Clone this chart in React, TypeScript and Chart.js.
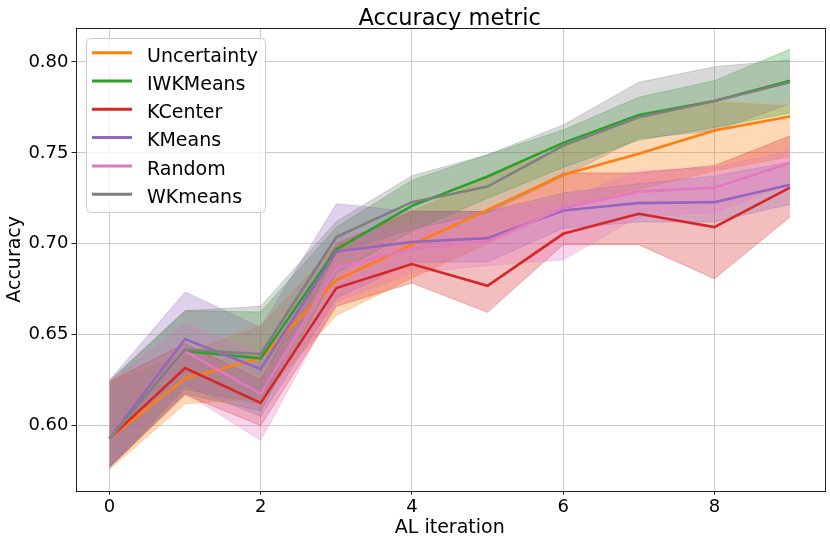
import React, { useEffect, useRef } from "react";
import { Chart, registerables } from "chart.js";
Chart.register(...registerables);

const iterations = [0, 1, 2, 3, 4, 5, 6, 7, 8, 9];
const seriesNames = ["Uncertainty", "IWKMeans", "KCenter", "KMeans", "Random", "WKmeans"];
const seriesColors = ["#ff7f0e", "#2ca02c", "#d62728", "#9467bd", "#e377c2", "#7f7f7f"];

const uncertaintyMean = [0.593, 0.626, 0.637, 0.680, 0.6995, 0.7187, 0.738, 0.7495, 0.7623, 0.770];
const uncertaintyLow = [0.576, 0.612, 0.615, 0.6606, 0.681, 0.700, 0.720, 0.730, 0.740, 0.748];
const uncertaintyHigh = [0.624, 0.640, 0.655, 0.699, 0.718, 0.736, 0.7535, 0.770, 0.778, 0.776];

const iwkmeansMean = [0.593, 0.641, 0.637, 0.697, 0.7209, 0.737, 0.7555, 0.7709, 0.7786, 0.7897];
const iwkmeansLow = [0.577, 0.6176, 0.608, 0.684, 0.707, 0.725, 0.742, 0.757, 0.764, 0.772];
const iwkmeansHigh = [0.624, 0.6632, 0.6625, 0.709, 0.735, 0.749, 0.7626, 0.7806, 0.7897, 0.807];

const kcenterMean = [0.593, 0.6317, 0.6125, 0.6757, 0.6889, 0.6769, 0.7055, 0.7165, 0.7092, 0.7309];
const kcenterLow = [0.577, 0.617, 0.600, 0.6656, 0.6784, 0.6623, 0.6995, 0.6995, 0.6808, 0.7147];
const kcenterHigh = [0.624, 0.645, 0.625, 0.700, 0.7178, 0.7178, 0.739, 0.739, 0.743, 0.7593];

const kmeansMean = [0.593, 0.6476, 0.6311, 0.6958, 0.701, 0.7031, 0.7183, 0.7224, 0.7229, 0.7325];
const kmeansLow = [0.577, 0.622, 0.605, 0.670, 0.690, 0.690, 0.7086, 0.712, 0.712, 0.7218];
const kmeansHigh = [0.625, 0.6735, 0.654, 0.722, 0.7178, 0.7178, 0.728, 0.733, 0.7372, 0.745];

const randomMean = [0.593, 0.641, 0.6174, 0.6867, 0.6973, 0.7013, 0.7196, 0.7287, 0.7309, 0.7444];
const randomLow = [0.577, 0.618, 0.592, 0.668, 0.684, 0.688, 0.6912, 0.715, 0.717, 0.733];
const randomHigh = [0.624, 0.656, 0.640, 0.705, 0.710, 0.7178, 0.7242, 0.740, 0.742, 0.751];

const wkmeansMean = [0.593, 0.6418, 0.6394, 0.7037, 0.7229, 0.7315, 0.754, 0.7696, 0.7786, 0.7888];
const wkmeansLow = [0.577, 0.620, 0.612, 0.695, 0.708, 0.717, 0.737, 0.758, 0.762, 0.777];
const wkmeansHigh = [0.625, 0.6632, 0.6656, 0.7123, 0.7374, 0.749, 0.7654, 0.7888, 0.7974, 0.8011];

const xTicks = [0, 2, 4, 6, 8];
const yTicks = [0.6, 0.65, 0.7, 0.75, 0.8];

const titleText = "Accuracy metric";
const xLabel = "AL iteration";
const yLabel = "Accuracy";

const means = [uncertaintyMean, iwkmeansMean, kcenterMean, kmeansMean, randomMean, wkmeansMean];
const lows = [uncertaintyLow, iwkmeansLow, kcenterLow, kmeansLow, randomLow, wkmeansLow];
const highs = [uncertaintyHigh, iwkmeansHigh, kcenterHigh, kmeansHigh, randomHigh, wkmeansHigh];

const FONT = "'DejaVu Sans', sans-serif";

function rgba(hex: string, a: number) {
  const r = parseInt(hex.slice(1, 3), 16);
  const g = parseInt(hex.slice(3, 5), 16);
  const b = parseInt(hex.slice(5, 7), 16);
  return `rgba(${r},${g},${b},${a})`;
}

function pts(vals: number[]) {
  return iterations.map((x, i) => ({ x, y: vals[i] }));
}

const decorPlugin = {
  id: "decor",
  afterDraw(chart: any) {
    const { ctx, chartArea } = chart;
    ctx.save();
    // frame
    ctx.strokeStyle = "#222";
    ctx.lineWidth = 1;
    ctx.strokeRect(
      Math.round(chartArea.left) + 0.5,
      Math.round(chartArea.top) + 0.5,
      Math.round(chartArea.right - chartArea.left),
      Math.round(chartArea.bottom - chartArea.top)
    );
    // title
    ctx.fillStyle = "#000";
    ctx.font = `22.5px ${FONT}`;
    ctx.textAlign = "center";
    ctx.textBaseline = "alphabetic";
    ctx.fillText(titleText, (chartArea.left + chartArea.right) / 2, 24.7);
    // legend
    const bx = 86, by = 38, bw = 179, bh = 174;
    ctx.beginPath();
    (ctx as any).roundRect(bx + 0.5, by + 0.5, bw, bh, 4);
    ctx.fillStyle = "rgba(255,255,255,0.8)";
    ctx.fill();
    ctx.strokeStyle = "#cccccc";
    ctx.lineWidth = 1;
    ctx.stroke();
    ctx.font = `19px ${FONT}`;
    ctx.textAlign = "left";
    ctx.textBaseline = "alphabetic";
    seriesNames.forEach((name, i) => {
      const y = 52.7 + 28.3 * i;
      ctx.strokeStyle = seriesColors[i];
      ctx.lineWidth = 3;
      ctx.beginPath();
      ctx.moveTo(92, y);
      ctx.lineTo(132, y);
      ctx.stroke();
      ctx.fillStyle = "#000";
      ctx.fillText(name, 147, y + 8.8);
    });
    ctx.restore();
  },
};

export default function App() {
  const ref = useRef<HTMLCanvasElement | null>(null);
  useEffect(() => {
    if (!ref.current) return;
    const datasets: any[] = [];
    // lines: last series first so it is drawn on top
    for (let s = seriesNames.length - 1; s >= 0; s--) {
      datasets.push({
        label: seriesNames[s],
        data: pts(means[s]),
        borderColor: seriesColors[s],
        backgroundColor: seriesColors[s],
        borderWidth: 2.6,
        pointRadius: 0,
        tension: 0,
        fill: false,
      });
    }
    for (let s = seriesNames.length - 1; s >= 0; s--) {
      datasets.push({
        label: seriesNames[s] + " high",
        data: pts(highs[s]),
        borderColor: rgba(seriesColors[s], 0.3),
        backgroundColor: rgba(seriesColors[s], 0.3),
        borderWidth: 1,
        pointRadius: 0,
        tension: 0,
        fill: "+1",
      });
      datasets.push({
        label: seriesNames[s] + " low",
        data: pts(lows[s]),
        borderColor: rgba(seriesColors[s], 0.3),
        backgroundColor: rgba(seriesColors[s], 0.3),
        borderWidth: 1,
        pointRadius: 0,
        tension: 0,
        fill: false,
      });
    }
    const chart = new Chart(ref.current, {
      type: "line",
      data: { datasets },
      plugins: [decorPlugin],
      options: {
        animation: false,
        responsive: false,
        maintainAspectRatio: false,
        layout: { padding: { top: 28, right: 6, left: 0, bottom: 0 } },
        plugins: {
          legend: { display: false },
          title: { display: false },
          tooltip: { enabled: false },
          filler: { drawTime: "beforeDatasetsDraw" },
        } as any,
        scales: {
          x: {
            type: "linear",
            min: -0.45,
            max: 9.45,
            afterBuildTicks: (scale: any) => {
              scale.ticks = xTicks.map((v) => ({ value: v }));
            },
            afterFit: (scale: any) => {
              scale.height = 52.3;
            },
            grid: {
              color: "#cccccc",
              lineWidth: 1,
              tickColor: "#222",
              tickLength: 4,
              drawTicks: true,
            },
            border: { display: false },
            ticks: {
              color: "#000",
              font: { family: FONT, size: 18 },
              padding: 2,
              maxRotation: 0,
              callback: (v: any) => String(v),
            },
            title: {
              display: true,
              text: xLabel,
              color: "#000",
              font: { family: FONT, size: 19 },
              padding: { top: 4, bottom: 4 },
            },
          },
          y: {
            type: "linear",
            min: 0.5642,
            max: 0.8187,
            afterBuildTicks: (scale: any) => {
              scale.ticks = yTicks.map((v) => ({ value: v }));
            },
            afterFit: (scale: any) => {
              scale.width = 75.5;
            },
            grid: {
              color: "#cccccc",
              lineWidth: 1,
              tickColor: "#222",
              tickLength: 4,
              drawTicks: true,
            },
            border: { display: false },
            ticks: {
              color: "#000",
              font: { family: FONT, size: 18 },
              padding: 3,
              callback: (v: any) => Number(v).toFixed(2),
            },
            title: {
              display: true,
              text: yLabel,
              color: "#000",
              font: { family: FONT, size: 19 },
              padding: { top: 4, bottom: 4 },
            },
          },
        },
      } as any,
    });
    return () => chart.destroy();
  }, []);
  return (
    <div style={{ position: "fixed", left: 0, top: 0, width: 830, height: 543, background: "#fff" }}>
      <canvas ref={ref} width={830} height={543} style={{ width: "830px", height: "543px", display: "block" }} />
    </div>
  );
}
